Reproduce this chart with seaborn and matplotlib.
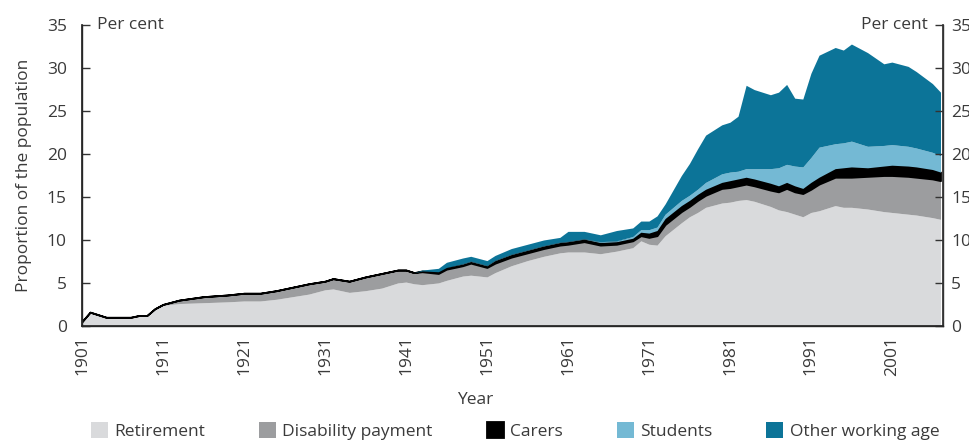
import numpy as np
import pandas as pd
import matplotlib
matplotlib.use("Agg")
import matplotlib.pyplot as plt
import seaborn as sns

# Dados (componentes empilhadas, % da população)
anos = [1901, 1902, 1904, 1907, 1908, 1909, 1910, 1911, 1913, 1916, 1919, 1921,
        1923, 1925, 1927, 1929, 1931, 1932, 1934, 1936, 1938, 1940, 1941, 1942,
        1943, 1945, 1946, 1948, 1949, 1951, 1952, 1954, 1956, 1958, 1960, 1961,
        1963, 1965, 1967, 1969, 1970, 1971, 1972, 1973, 1975, 1976, 1977, 1978,
        1980, 1981, 1982, 1983, 1984, 1986, 1987, 1988, 1989, 1990, 1991, 1992,
        1994, 1995, 1996, 1998, 2000, 2001, 2003, 2004, 2006, 2007]

retirement = [0.5, 1.6, 1.0, 1.0, 1.2, 1.2, 2.0, 2.4, 2.6, 2.7, 2.8, 2.9,
              2.9, 3.1, 3.4, 3.7, 4.2, 4.3, 3.9, 4.1, 4.4, 5.0, 5.1, 4.9,
              4.8, 5.0, 5.3, 5.8, 5.9, 5.7, 6.2, 7.0, 7.6, 8.1, 8.5, 8.6,
              8.6, 8.4, 8.7, 9.1, 9.9, 9.5, 9.4, 10.5, 12.0, 12.7, 13.2, 13.8,
              14.3, 14.4, 14.6, 14.7, 14.5, 13.9, 13.5, 13.3, 13.0, 12.7, 13.2, 13.4,
              14.0, 13.8, 13.8, 13.6, 13.3, 13.2, 13.0, 12.9, 12.6, 12.4]

disability = [0, 0, 0, 0, 0, 0, 0, 0.1, 0.4, 0.7, 0.8, 0.9,
              0.9, 1.0, 1.1, 1.2, 1.0, 1.2, 1.3, 1.6, 1.7, 1.5, 1.4, 1.3,
              1.5, 1.1, 1.3, 1.2, 1.4, 1.1, 1.1, 1.0, 0.9, 0.9, 0.9, 0.9,
              1.2, 1.0, 0.8, 0.8, 0.6, 0.8, 1.1, 1.3, 1.3, 1.2, 1.4, 1.4,
              1.7, 1.7, 1.7, 1.8, 1.8, 1.9, 2.1, 2.7, 2.6, 2.7, 2.7, 3.1,
              3.3, 3.5, 3.5, 3.8, 4.2, 4.3, 4.4, 4.4, 4.5, 4.5]

carers = [0, 0, 0, 0, 0, 0, 0, 0, 0, 0, 0, 0,
          0, 0, 0, 0, 0, 0, 0, 0, 0, 0, 0, 0,
          0.1, 0.2, 0.2, 0.2, 0.2, 0.2, 0.3, 0.3, 0.3, 0.3, 0.3, 0.3,
          0.3, 0.3, 0.3, 0.3, 0.4, 0.5, 0.6, 0.7, 0.7, 0.7, 0.7, 0.7,
          0.7, 0.8, 0.8, 0.8, 0.8, 0.8, 0.7, 0.7, 0.7, 0.6, 0.8, 0.8,
          1.0, 1.1, 1.2, 1.0, 1.1, 1.2, 1.2, 1.2, 1.1, 1.0]

students = [0, 0, 0, 0, 0, 0, 0, 0, 0, 0, 0, 0,
            0, 0, 0, 0, 0, 0, 0, 0, 0, 0, 0, 0,
            0, 0, 0, 0.05, 0.05, 0.05, 0.05, 0.05, 0.05, 0.05, 0.05, 0.05,
            0.05, 0.1, 0.1, 0.2, 0.3, 0.4, 0.4, 0.5, 0.6, 0.6, 0.6, 0.8,
            1.0, 1.0, 0.9, 1.0, 1.2, 1.7, 2.1, 2.1, 2.3, 2.5, 2.9, 3.5,
            2.9, 2.9, 3.0, 2.5, 2.4, 2.4, 2.3, 2.2, 2.0, 1.9]

other = [0, 0, 0, 0, 0, 0, 0, 0, 0, 0, 0, 0,
         0, 0, 0, 0, 0, 0, 0, 0, 0, 0, 0, 0,
         0.1, 0.4, 0.6, 0.65, 0.55, 0.55, 0.55, 0.65, 0.65, 0.65, 0.55, 1.15,
         0.85, 0.8, 1.2, 1.0, 1.0, 1.0, 1.3, 1.2, 2.9, 3.7, 4.7, 5.5,
         5.7, 5.8, 6.4, 9.7, 9.2, 8.6, 8.8, 9.3, 7.9, 7.9, 9.8, 10.7,
         11.2, 10.8, 11.3, 10.9, 9.5, 9.6, 9.3, 8.9, 8.0, 7.4]

series = ["Retirement", "Disability payment", "Carers", "Students", "Other working age"]
cores = ["#d9dadc", "#9c9d9f", "#000000", "#74b9d4", "#0c7498"]
ticks_x = [1901, 1911, 1921, 1931, 1941, 1951, 1961, 1971, 1981, 1991, 2001]

df = pd.DataFrame({"Ano": anos, series[0]: retirement, series[1]: disability,
                   series[2]: carers, series[3]: students, series[4]: other})

sns.set_theme(style="ticks")
plt.rcParams["font.family"] = ["Open Sans", "DejaVu Sans"]
cor_texto = "#3a3a3a"
fs = 12.5

fig = plt.figure(figsize=(9.69, 4.41), dpi=100)
ax = fig.add_axes([0.0846, 0.261, 0.8885, 0.682])

polys = ax.stackplot(df["Ano"], [df[s] for s in series], colors=cores,
                     labels=series, linewidth=0)
# linha preta no topo da faixa de cuidadores
polys[2].set_edgecolor("black")
polys[2].set_linewidth(1.3)

ax.set_xlim(1901, 2007.3)
ax.set_ylim(0, 35)
ax.set_yticks(range(0, 36, 5))
ax.set_xticks(ticks_x)
ax.set_xticklabels([str(t) for t in ticks_x], rotation=90)
ax.tick_params(axis="both", direction="in", length=6, width=1, colors="#333333",
               labelsize=fs, labelcolor=cor_texto)
ax.tick_params(axis="y", pad=11)
ax.tick_params(axis="x", pad=7)
for lado in ["left", "bottom", "right"]:
    ax.spines[lado].set_color("#333333")
    ax.spines[lado].set_linewidth(1)
ax.spines["top"].set_visible(False)

ax2 = ax.twinx()
ax2.set_ylim(0, 35)
ax2.set_yticks(range(0, 36, 5))
ax2.tick_params(axis="y", direction="in", length=6, width=1, colors="#333333",
                labelsize=fs, labelcolor=cor_texto, pad=6)
ax2.spines["top"].set_visible(False)
ax2.spines["right"].set_color("#333333")

ax.set_ylabel("Proportion of the population", fontsize=fs, color=cor_texto)
ax.yaxis.set_label_coords(-0.058, 0.5)
fig.text(475 / 969, 1 - 400 / 441, "Year", fontsize=fs, color=cor_texto,
         ha="center", va="center")

ax.text(0.017, 1.0, "Per cent", transform=ax.transAxes, fontsize=fs,
        color=cor_texto, va="center", ha="left")
ax.text(0.983, 1.0, "Per cent", transform=ax.transAxes, fontsize=fs,
        color=cor_texto, va="center", ha="right")

fig.legend(polys, series, loc="center", bbox_to_anchor=(515 / 969, 1 - 431 / 441),
           ncol=5, frameon=False, fontsize=fs, handlelength=1.0,
           handleheight=1.0, handletextpad=0.35, columnspacing=3.1,
           labelcolor=cor_texto, borderpad=0)

plt.savefig("out.png", dpi=100)
plt.close()
